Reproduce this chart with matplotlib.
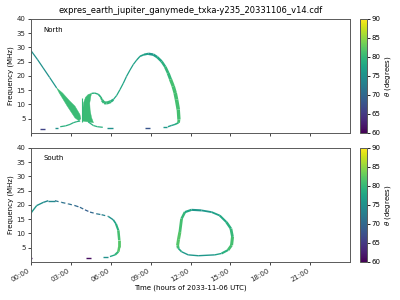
import numpy as np
import matplotlib
matplotlib.use("Agg")
import matplotlib.pyplot as plt
from matplotlib.collections import LineCollection
from matplotlib.colors import Normalize
import matplotlib.cm as cm

title = "expres_earth_jupiter_ganymede_txka-y235_20331106_v14.cdf"
xticks = [0, 3, 6, 9, 12, 15, 18, 21]
xtick_labels = ["00:00", "03:00", "06:00", "09:00", "12:00", "15:00", "18:00", "21:00"]
yticks = [5, 10, 15, 20, 25, 30, 35, 40]
cbar_ticks = [60, 65, 70, 75, 80, 85, 90]

# ---- North hemisphere (time in hours, freq in MHz, theta in degrees)
n_line_t = [0.0, 0.5, 0.92, 1.4, 1.93]
n_line_f = [28.9, 25.7, 22.8, 19.5, 15.8]
n_line_th = [75, 75, 75, 76, 77]

fan1_t = [1.93, 2.38, 2.9, 3.31, 3.68, 3.75, 3.6, 3.31, 2.73, 2.13, 1.93]
fan1_f = [15.8, 14.0, 11.3, 9.4, 6.5, 5.0, 4.3, 5.3, 9.4, 14.0, 15.8]

spike_t = [3.81, 3.81]
spike_f = [4.0, 12.4]

fan2_t = [3.86, 3.88, 3.95, 4.1, 4.3, 4.56, 4.5, 4.42, 4.45, 4.55, 4.7, 4.3]
fan2_f = [4.2, 7.5, 10.5, 12.5, 13.5, 13.9, 12.8, 10.5, 8.0, 5.5, 3.6, 3.9]

hook_t = [4.56, 4.8, 5.06, 5.25, 5.35, 5.5, 5.7, 6.0, 6.19]
hook_f = [13.9, 14.0, 13.6, 12.6, 11.5, 10.6, 10.5, 11.0, 11.7]
hook_th = [79, 79, 79, 80, 80, 80, 80, 79, 78]
hook_lw = [1.0, 1.0, 1.2, 1.4, 2.0, 2.2, 2.2, 1.8, 1.2]

arc_t = [6.19, 6.45, 6.69, 6.95, 7.19, 7.45, 7.69, 7.95, 8.2, 8.5, 8.82, 9.2, 9.5,
         9.83, 10.1, 10.32, 10.5, 10.7, 10.85, 10.95, 11.08, 11.13, 11.1, 10.83,
         10.55, 10.3]
arc_f = [11.7, 13.2, 15.2, 17.5, 19.9, 22.1, 24.0, 25.6, 26.9, 27.5, 27.8, 27.5, 26.6,
         25.1, 23.2, 21.0, 18.8, 16.4, 14.0, 11.7, 8.25, 4.75, 3.6, 3.0, 2.6, 2.2]
arc_th = [78, 78, 78, 77, 77, 77, 77, 77, 77, 77, 76, 77, 78,
          79, 80, 80, 81, 81, 81, 81, 81, 81, 79, 77, 77, 76]
arc_lw = [0.9, 0.9, 0.9, 0.9, 0.9, 0.9, 0.9, 1.0, 1.2, 1.5, 1.8, 1.8, 1.8,
          1.8, 2.0, 2.2, 2.4, 2.5, 2.6, 2.6, 2.4, 2.0, 1.2, 1.0, 1.0, 1.0]

fan1_low_t = [2.2, 2.6, 2.93, 3.18, 3.45, 3.7]
fan1_low_f = [2.2, 2.5, 3.0, 3.6, 4.0, 4.2]
fan2_low_t = [4.3, 4.7, 5.0, 5.4]
fan2_low_f = [3.9, 2.6, 2.2, 2.0]

# short bursts near the lower band edge: (t0, t1, freq, theta)
n_dashes = [(0.68, 1.05, 1.5, 66), (1.8, 2.05, 1.85, 75), (5.75, 6.15, 1.8, 75),
            (8.57, 8.95, 1.8, 68), (9.95, 10.2, 2.2, 76)]

# ---- South hemisphere
s1a_t = [0.0, 0.05, 0.43, 0.92, 1.3, 1.8]
s1a_f = [16.9, 17.5, 19.8, 20.9, 21.5, 21.5]
s1a_th = [77, 76, 75, 74, 74, 73]
s1b_t = [1.8, 2.31, 2.8, 3.3, 3.68, 4.06, 4.44, 4.94, 5.31, 5.81]
s1b_f = [21.5, 20.9, 20.4, 19.8, 19.2, 18.3, 17.5, 16.9, 16.6, 16.0]
s1b_th = [72, 71, 71, 70, 70, 69, 70, 72, 73, 74]
s1c_t = [5.81, 6.19, 6.39, 6.57, 6.64, 6.64, 6.57, 6.32, 5.94]
s1c_f = [16.0, 14.8, 13.4, 11.1, 7.7, 5.3, 3.6, 2.5, 1.9]
s1c_th = [75, 77, 79, 81, 82, 82, 80, 78, 76]
s1c_lw = [1.0, 1.2, 1.5, 1.8, 2.0, 1.8, 1.5, 1.0, 1.0]

s_dashes = [(0.0, 0.05, 1.5, 62), (4.14, 4.5, 1.3, 61), (5.44, 5.8, 1.7, 75)]

s2_t = [11.08, 11.03, 11.1, 11.2, 11.33, 11.58, 12.08, 12.83, 13.59, 14.2, 14.7, 15.04,
        15.16, 15.09, 14.83, 14.34, 13.83, 12.58, 11.83, 11.33, 11.08]
s2_f = [4.8, 5.9, 8.0, 10.5, 15.2, 17.5, 18.3, 18.1, 17.5, 16.3, 14.0, 11.7,
        8.8, 5.9, 4.2, 3.0, 2.5, 2.2, 2.5, 3.6, 4.8]
s2_th = [81, 82, 82, 81, 80, 78, 76, 76, 77, 78, 79, 80,
         81, 81, 79, 77, 76, 76, 76, 78, 80]
s2_lw = [2.0, 2.2, 2.2, 2.0, 1.8, 1.6, 1.5, 1.3, 1.3, 1.5, 1.8, 2.0,
         2.2, 2.0, 1.5, 1.0, 1.0, 1.0, 1.0, 1.2, 1.8]

cmap = plt.get_cmap("viridis")
norm = Normalize(60, 90)


def curve(ax, t, f, th, lw=0.9, ls="solid"):
    if np.isscalar(th):
        th = [th] * len(t)
    if np.isscalar(lw):
        lw = [lw] * len(t)
    pts = np.column_stack([t, f])
    segs = np.stack([pts[:-1], pts[1:]], axis=1)
    lc = LineCollection(segs, colors=cmap(norm(np.array(th[:-1]))),
                        linewidths=lw[:-1], linestyles=ls, capstyle="butt")
    ax.add_collection(lc)


fig = plt.figure(figsize=(4, 3), dpi=100)
ax1 = fig.add_axes([0.0775, 0.5567, 0.7975, 0.38])
ax2 = fig.add_axes([0.0775, 0.1267, 0.7975, 0.38])
cax1 = fig.add_axes([0.9, 0.5567, 0.0165, 0.38])
cax2 = fig.add_axes([0.9, 0.1267, 0.0165, 0.38])

# north
curve(ax1, n_line_t, n_line_f, n_line_th)
ax1.fill(fan1_t, fan1_f, color=cmap(norm(80.5)), lw=0.3, ec=cmap(norm(80.5)))
curve(ax1, spike_t, spike_f, 80, lw=0.8)
ax1.fill(fan2_t, fan2_f, color=cmap(norm(80.5)), lw=0.3, ec=cmap(norm(80.5)))
curve(ax1, hook_t, hook_f, hook_th, hook_lw)
curve(ax1, arc_t, arc_f, arc_th, arc_lw)
curve(ax1, fan1_low_t, fan1_low_f, 79)
curve(ax1, fan2_low_t, fan2_low_f, 79)
for t0, t1, fr, th in n_dashes:
    curve(ax1, [t0, t1], [fr, fr], th, lw=1.0)

# south
curve(ax2, s1a_t, s1a_f, s1a_th, lw=1.0)
curve(ax2, s1b_t, s1b_f, s1b_th, lw=0.9, ls=(0, (3, 2)))
curve(ax2, s1c_t, s1c_f, s1c_th, s1c_lw)
curve(ax2, s2_t, s2_f, s2_th, s2_lw)
for t0, t1, fr, th in s_dashes:
    curve(ax2, [t0, t1], [fr, fr], th, lw=1.0)

ax1.text(0.04, 0.9, "North", transform=ax1.transAxes, fontsize=5, va="center")
ax2.text(0.04, 0.91, "South", transform=ax2.transAxes, fontsize=5, va="center")

for ax in (ax1, ax2):
    ax.set_xlim(0, 24)
    ax.set_ylim(0, 40)
    ax.set_yticks(yticks)
    ax.set_xticks(xticks)
    ax.set_ylabel("Frequency (MHz)", fontsize=5, labelpad=2)
    ax.tick_params(labelsize=5, length=2.5, width=0.6, pad=1.5, colors="0.15")
    for s in ax.spines.values():
        s.set_linewidth(0.7)
        s.set_color("0.35")

ax1.set_xticklabels([])
ax2.set_xticklabels(xtick_labels, rotation=30, ha="right")
ax2.set_xlabel("Time (hours of 2033-11-06 UTC)", fontsize=5, labelpad=1)
ax1.set_title(title, fontsize=6, pad=4)

sm = cm.ScalarMappable(norm=norm, cmap=cmap)
for cax in (cax1, cax2):
    cb = fig.colorbar(sm, cax=cax, ticks=cbar_ticks)
    cb.set_label(r"$\theta$ (degrees)", fontsize=5, labelpad=2)
    cb.ax.tick_params(labelsize=5, length=2, width=0.6, pad=1.5)
    cb.outline.set_linewidth(0.7)
    cb.outline.set_edgecolor("0.35")

fig.savefig("out.png", dpi=100)
